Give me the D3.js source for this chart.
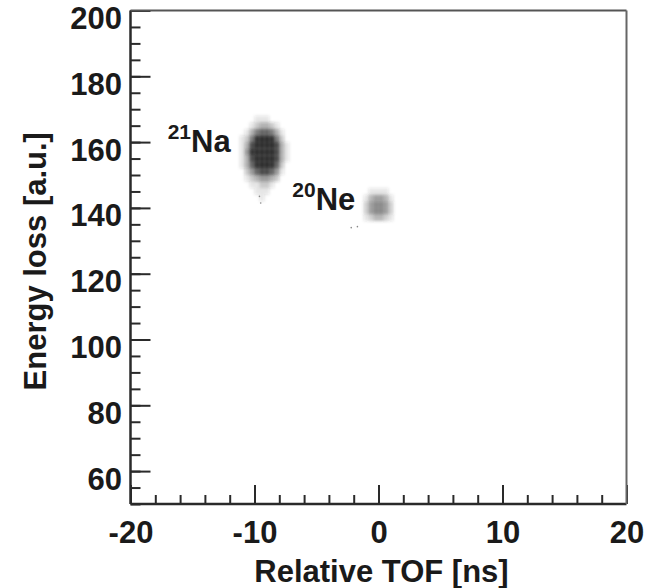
<!DOCTYPE html>
<html>
<head>
<meta charset="utf-8">
<script src="https://cdn.jsdelivr.net/npm/d3@7"></script>
<style>
  html, body { margin: 0; padding: 0; background: #fff; }
  svg { display: block; font-family: "Liberation Sans", Arial, Helvetica, sans-serif; font-weight: bold; }
</style>
</head>
<body>
<svg id="chart" width="647" height="588"></svg>
<script>
// axis ranges
const xDomain = [-20, 20];
const yDomain = [50, 200];
const xMajorTicks = [-20, -10, 0, 10, 20];
const yMajorTicks = [60, 80, 100, 120, 140, 160, 180, 200];

// 21Na blob, binned counts (relative, 0-9), rows from top (high E) to bottom
const naBinsX = [-11.2, -10.8, -10.4, -10.0, -9.6, -9.2, -8.8, -8.4, -8.0, -7.6]; // left edges, width 0.4
const naBinsY = [168, 166, 164, 162, 160, 158, 156, 154, 152, 150, 148, 146, 144]; // top edges, height 2
const naCounts = [
  [0, 0, 0, 1, 1, 1, 0, 0, 0, 0],
  [0, 0, 1, 2, 3, 3, 2, 1, 0, 0],
  [0, 1, 3, 5, 6, 6, 5, 3, 1, 0],
  [1, 2, 5, 8, 9, 9, 8, 5, 2, 0],
  [1, 3, 7, 9, 9, 9, 9, 7, 3, 1],
  [1, 4, 8, 9, 9, 9, 9, 7, 3, 1],
  [1, 3, 7, 9, 9, 9, 9, 7, 3, 1],
  [1, 3, 6, 8, 9, 9, 8, 6, 2, 0],
  [0, 2, 4, 6, 7, 7, 6, 4, 1, 0],
  [0, 1, 2, 3, 4, 4, 3, 2, 0, 0],
  [0, 0, 1, 1, 2, 2, 1, 0, 0, 0],
  [0, 0, 0, 1, 1, 1, 0, 0, 0, 0],
  [0, 0, 0, 0, 1, 0, 0, 0, 0, 0]
];

// 20Ne blob
const neBinsX = [-1.2, -0.8, -0.4, 0.0, 0.4, 0.8];
const neBinsY = [146, 144, 142, 140, 138];
const neCounts = [
  [0, 1, 1, 1, 1, 0],
  [1, 3, 4, 4, 3, 1],
  [2, 4, 5, 5, 4, 2],
  [2, 4, 5, 5, 4, 2],
  [1, 2, 3, 3, 2, 1]
];
const binW = 0.4, binH = 2, maxCount = 9;

// a few isolated events
const strayX = [-9.6, -9.5, -2.2, -1.7];
const strayY = [143.5, 141.5, 134.0, 134.3];

// isotope labels
const labelNames = ['Na', 'Ne'];
const labelMass = ['21', '20'];
const labelX = [-17.0, -6.95];
const labelY = [157.1, 139.5];

const config = {
  margin: {left: 130.5, top: 10.5, right: 20.5, bottom: 84},
  width: 647, height: 588
};

const svg = d3.select('#chart');
const x0 = config.margin.left, x1 = config.width - config.margin.right;
const y0 = config.height - config.margin.bottom, y1 = config.margin.top;
const xScale = d3.scaleLinear().domain(xDomain).range([x0, x1]);
const yScale = d3.scaleLinear().domain(yDomain).range([y0, y1]);

const defs = svg.append('defs');
defs.append('filter').attr('id', 'soft')
  .attr('x', '-50%').attr('y', '-50%').attr('width', '200%').attr('height', '200%')
  .append('feGaussianBlur').attr('stdDeviation', 1.6);

function drawBlob(binsX, binsY, counts, color) {
  const cells = [];
  counts.forEach((row, j) => row.forEach((c, i) => {
    if (c > 0) cells.push({x: binsX[i], y: binsY[j], c: c});
  }));
  svg.append('g').attr('filter', 'url(#soft)')
    .selectAll('rect').data(cells).enter().append('rect')
    .attr('x', d => xScale(d.x))
    .attr('y', d => yScale(d.y))
    .attr('width', d => xScale(d.x + binW) - xScale(d.x))
    .attr('height', d => yScale(d.y - binH) - yScale(d.y))
    .attr('fill', color)
    .attr('fill-opacity', d => Math.min(1, d.c / maxCount * 1.1));
}

drawBlob(naBinsX, naBinsY, naCounts, '#262626');
drawBlob(neBinsX, neBinsY, neCounts, '#3c3c3c');

svg.append('g').selectAll('circle').data(strayX).enter().append('circle')
  .attr('cx', d => xScale(d))
  .attr('cy', (d, i) => yScale(strayY[i]))
  .attr('r', 0.8).attr('fill', '#888');

// axes
const fontSize = 31;
const fmt = d => String(d); // plain hyphen minus like the original
function styleAxis(g) {
  g.select('.domain').remove();
  g.selectAll('line').attr('stroke', '#2a2a2a').attr('stroke-width', 2);
  g.selectAll('text').attr('fill', '#1a1a1a').style('font-size', fontSize + 'px')
    .style('font-family', '"Liberation Sans", Arial, sans-serif').style('font-weight', 'bold');
}

const xMinor = d3.axisBottom(xScale).tickValues(d3.range(-20, 20.1, 2)).tickSize(-9).tickFormat('');
const xMajor = d3.axisBottom(xScale).tickValues(xMajorTicks).tickSize(-19).tickPadding(17).tickFormat(fmt);
svg.append('g').attr('transform', `translate(0,${y0})`).call(xMinor).call(styleAxis);
svg.append('g').attr('transform', `translate(0,${y0})`).call(xMajor).call(styleAxis);

const yMinor = d3.axisLeft(yScale).tickValues(d3.range(50, 200.1, 5)).tickSize(-10).tickFormat('');
const yMajor = d3.axisLeft(yScale).tickValues(yMajorTicks).tickSize(-20).tickPadding(8.5).tickFormat(fmt);
svg.append('g').attr('transform', `translate(${x0},0)`).call(yMinor).call(styleAxis);
const yg = svg.append('g').attr('transform', `translate(${x0},0)`).call(yMajor).call(styleAxis);
yg.selectAll('text').attr('dy', '0.58em');

// frame
svg.append('line').attr('x1', x0).attr('x2', x0).attr('y1', y1).attr('y2', y0)
  .attr('stroke', '#2a2a2a').attr('stroke-width', 2.5);
svg.append('line').attr('x1', x0).attr('x2', x1).attr('y1', y0).attr('y2', y0)
  .attr('stroke', '#2a2a2a').attr('stroke-width', 2.5);
svg.append('line').attr('x1', x0).attr('x2', x1).attr('y1', y1).attr('y2', y1)
  .attr('stroke', '#555').attr('stroke-width', 2);
svg.append('line').attr('x1', x1).attr('x2', x1).attr('y1', y1).attr('y2', y0)
  .attr('stroke', '#666').attr('stroke-width', 2);

// titles
svg.append('text').attr('x', (x0 + x1) / 2 + 3).attr('y', 582)
  .attr('text-anchor', 'middle').attr('fill', '#1a1a1a').style('font-size', fontSize + 'px')
  .text('Relative TOF [ns]');
svg.append('text').attr('transform', `translate(46,${(y0 + y1) / 2 + 4}) rotate(-90)`)
  .attr('text-anchor', 'middle').attr('fill', '#1a1a1a').style('font-size', fontSize + 'px')
  .text('Energy loss [a.u.]');

// isotope labels
labelNames.forEach((name, i) => {
  const t = svg.append('text').attr('x', xScale(labelX[i])).attr('y', yScale(labelY[i]))
    .attr('fill', '#1a1a1a');
  t.append('tspan').style('font-size', '21px').attr('dy', -13).text(labelMass[i]);
  t.append('tspan').style('font-size', '31px').attr('dy', 13).text(name);
});
</script>
</body>
</html>
